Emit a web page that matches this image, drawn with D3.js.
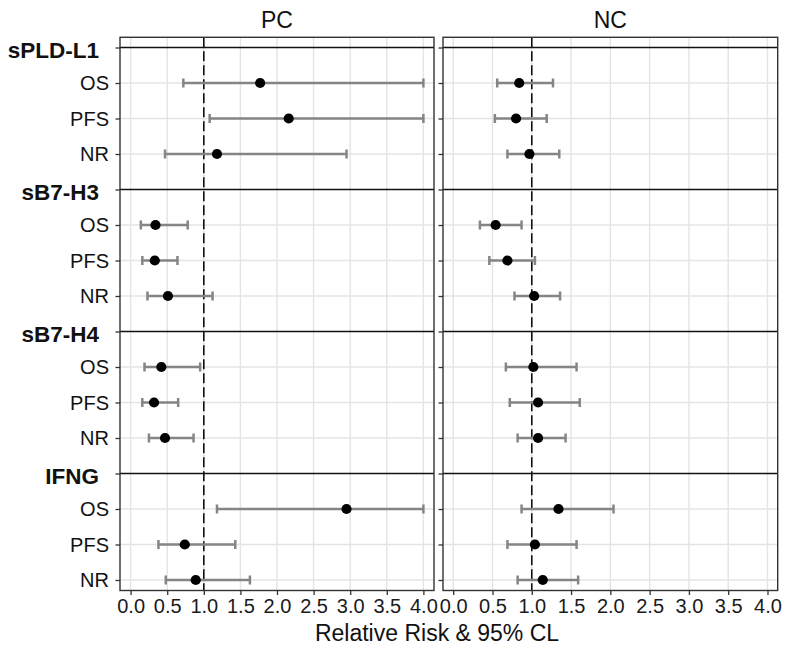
<!DOCTYPE html>
<html>
<head>
<meta charset="utf-8">
<script src="https://cdn.jsdelivr.net/npm/d3@7"></script>
<style>
  body { margin: 0; background: #fff; }
  text { font-family: "Liberation Sans", Arial, Helvetica, sans-serif; }
</style>
</head>
<body>
<div id="chart"></div>
<script>
// Chart data
var panels = ["PC", "NC"];
var markers = ["sPLD-L1", "sB7-H3", "sB7-H4", "IFNG"];
var outcomes = ["OS", "PFS", "NR"];
var xTicks = [0, 0.5, 1, 1.5, 2, 2.5, 3, 3.5, 4];

// one value per marker x outcome, in the order above
var pcEstimate = [1.77, 2.16, 1.18, 0.34, 0.33, 0.51, 0.42, 0.32, 0.47, 2.95, 0.74, 0.89];
var pcLower = [0.72, 1.08, 0.47, 0.14, 0.16, 0.23, 0.19, 0.16, 0.25, 1.18, 0.38, 0.48];
var pcUpper = [4.0, 4.0, 2.95, 0.78, 0.64, 1.12, 0.95, 0.65, 0.86, 4.0, 1.43, 1.63];

var ncEstimate = [0.84, 0.80, 0.97, 0.54, 0.69, 1.03, 1.02, 1.08, 1.08, 1.34, 1.04, 1.14];
var ncLower = [0.56, 0.53, 0.69, 0.34, 0.46, 0.78, 0.67, 0.72, 0.82, 0.87, 0.69, 0.82];
var ncUpper = [1.27, 1.19, 1.35, 0.87, 1.04, 1.36, 1.57, 1.61, 1.43, 2.04, 1.57, 1.59];

var svgWidth = 788;
var svgHeight = 654;

// panel boxes (left/right edges differ a bit, as in the original layout)
var panelBox = {
  PC: { left: 120, right: 434, domain: [-0.145, 4.145] },
  NC: { left: 443, right: 777.7, domain: [-0.13, 4.13] }
};
var panelTop = 37.3;
var panelBottom = 590.5;

var svg = d3.select("#chart")
  .append("svg")
  .attr("width", svgWidth)
  .attr("height", svgHeight);

// build the rows: a header row per marker, followed by its outcomes
var rows = [];
markers.forEach(function(m, i) {
  rows.push({ key: m, label: m, header: true });
  outcomes.forEach(function(o, j) {
    rows.push({ key: m + "|" + o, label: o, header: false, idx: i * 3 + j });
  });
});

var yScale = d3.scalePoint()
  .domain(rows.map(d => d.key))
  .range([panelTop + 10.2, panelBottom - 10.5]);

var seriesByPanel = {
  PC: { est: pcEstimate, lo: pcLower, hi: pcUpper },
  NC: { est: ncEstimate, lo: ncLower, hi: ncUpper }
};

panels.forEach(function(p) {
  var box = panelBox[p];
  var xScale = d3.scaleLinear().domain(box.domain).range([box.left, box.right]);
  var g = svg.append("g");

  // vertical grid
  g.selectAll(".vgrid")
    .data(xTicks)
    .enter().append("line")
    .attr("x1", d => xScale(d)).attr("x2", d => xScale(d))
    .attr("y1", panelTop).attr("y2", panelBottom)
    .attr("stroke", "#e4e4e4").attr("stroke-width", 1.4);

  // horizontal grid for outcome rows
  g.selectAll(".hgrid")
    .data(rows.filter(d => !d.header))
    .enter().append("line")
    .attr("x1", box.left).attr("x2", box.right)
    .attr("y1", d => yScale(d.key)).attr("y2", d => yScale(d.key))
    .attr("stroke", "#e4e4e4").attr("stroke-width", 1.4);

  // black separator lines at marker rows
  g.selectAll(".hdr")
    .data(rows.filter(d => d.header))
    .enter().append("line")
    .attr("x1", box.left).attr("x2", box.right)
    .attr("y1", d => yScale(d.key)).attr("y2", d => yScale(d.key))
    .attr("stroke", "#111").attr("stroke-width", 1.3);

  // reference line at 1
  g.append("line")
    .attr("x1", xScale(1)).attr("x2", xScale(1))
    .attr("y1", panelTop).attr("y2", panelBottom)
    .attr("stroke", "#111").attr("stroke-width", 1.6)
    .attr("stroke-dasharray", "10,4");

  var s = seriesByPanel[p];
  var dataRows = rows.filter(d => !d.header).map(function(d) {
    return { key: d.key, est: s.est[d.idx], lo: s.lo[d.idx], hi: s.hi[d.idx] };
  });

  // error bars
  var eb = g.selectAll(".eb").data(dataRows).enter().append("g")
    .attr("stroke", "#858585").attr("stroke-width", 2.5);
  eb.append("line")
    .attr("x1", d => xScale(d.lo)).attr("x2", d => xScale(d.hi))
    .attr("y1", d => yScale(d.key)).attr("y2", d => yScale(d.key));
  eb.append("line")
    .attr("x1", d => xScale(d.lo)).attr("x2", d => xScale(d.lo))
    .attr("y1", d => yScale(d.key) - 4.5).attr("y2", d => yScale(d.key) + 4.5);
  eb.append("line")
    .attr("x1", d => xScale(d.hi)).attr("x2", d => xScale(d.hi))
    .attr("y1", d => yScale(d.key) - 4.5).attr("y2", d => yScale(d.key) + 4.5);

  // points
  g.selectAll(".pt").data(dataRows).enter().append("circle")
    .attr("cx", d => xScale(d.est))
    .attr("cy", d => yScale(d.key))
    .attr("r", 5.1)
    .attr("fill", "#000");

  // panel border
  g.append("rect")
    .attr("x", box.left).attr("y", panelTop)
    .attr("width", box.right - box.left).attr("height", panelBottom - panelTop)
    .attr("fill", "none").attr("stroke", "#333").attr("stroke-width", 1.4);

  // x axis
  var xAxis = g.append("g")
    .attr("transform", "translate(0," + panelBottom + ")")
    .call(d3.axisBottom(xScale).tickValues(xTicks).tickFormat(d3.format(".1f"))
      .tickSize(4.5).tickPadding(4));
  xAxis.select(".domain").remove();
  xAxis.selectAll("line").attr("stroke", "#333").attr("stroke-width", 1.3);
  xAxis.selectAll("text")
    .attr("font-size", "20px").attr("fill", "#1a1a1a")
    .attr("font-family", "'Liberation Sans', Arial, sans-serif");

  // y ticks
  var yAxis = g.append("g")
    .attr("transform", "translate(" + box.left + ",0)")
    .call(d3.axisLeft(yScale).tickSize(4.5).tickFormat(""));
  yAxis.select(".domain").remove();
  yAxis.selectAll("line").attr("stroke", "#333").attr("stroke-width", 1.3);

  // panel title
  g.append("text")
    .attr("x", (box.left + box.right) / 2)
    .attr("y", 27.5)
    .attr("text-anchor", "middle")
    .attr("font-size", "23px")
    .attr("fill", "#111")
    .text(p);
});

// y labels on the first panel
var labels = svg.append("g");
labels.selectAll(".ylab")
  .data(rows)
  .enter().append("text")
  .attr("x", d => d.header ? 99 : 109)
  .attr("y", d => yScale(d.key))
  .attr("dy", d => d.header ? "0.48em" : "0.36em")
  .attr("text-anchor", "end")
  .attr("font-size", d => d.header ? "22.5px" : "20px")
  .attr("font-weight", d => d.header ? "bold" : "normal")
  .attr("fill", "#111")
  .text(d => d.label);

// x axis title
svg.append("text")
  .attr("x", 437)
  .attr("y", 641)
  .attr("text-anchor", "middle")
  .attr("font-size", "23px")
  .attr("fill", "#111")
  .text("Relative Risk & 95% CL");
</script>
</body>
</html>
